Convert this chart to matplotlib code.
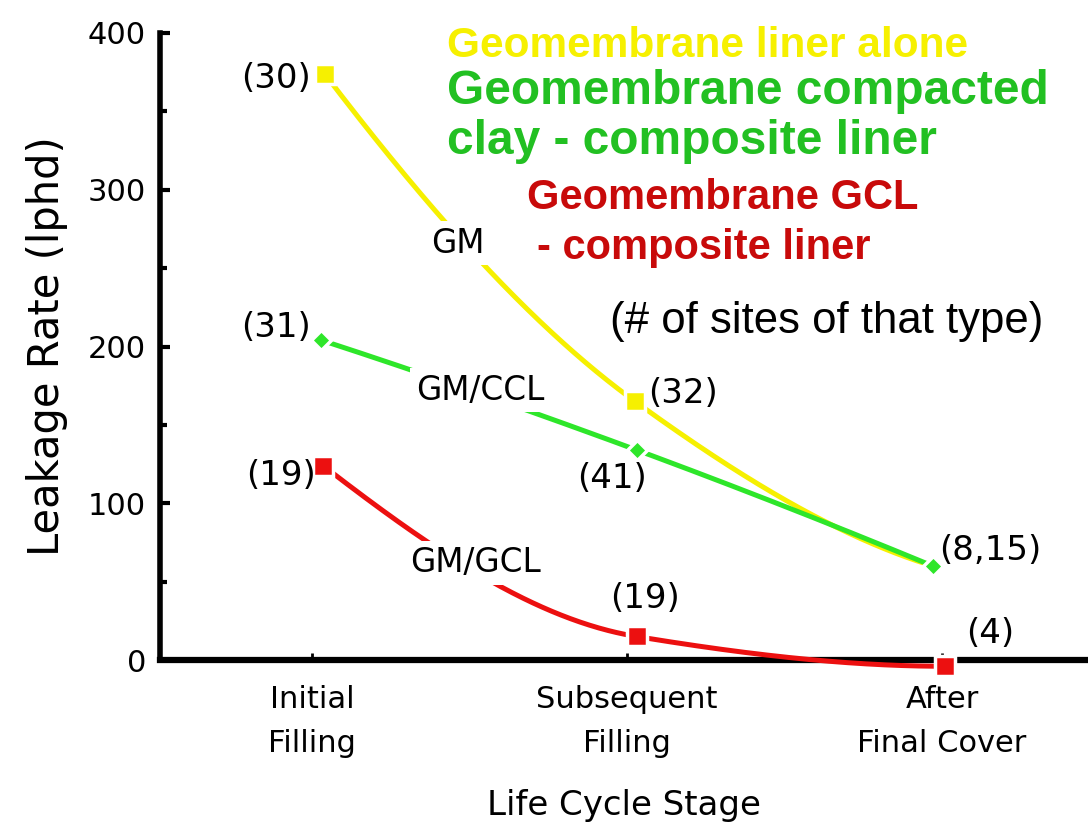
import numpy as np
import matplotlib
matplotlib.use("Agg")
import matplotlib.pyplot as plt
from matplotlib.ticker import MultipleLocator

# ---- data ----
stages = ["Initial\nFilling", "Subsequent\nFilling", "After\nFinal Cover"]
gm_x = [0.04, 1.025, 1.97]
gm_y = [374, 165, 60]
ccl_x = [0.03, 1.03, 1.97]
ccl_y = [204, 134, 60]
gcl_x = [0.035, 1.03, 2.01]
gcl_y = [124, 15, -4]
gm_sites = ["(30)", "(32)"]
ccl_sites = ["(31)", "(41)", "(8,15)"]
gcl_sites = ["(19)", "(19)", "(4)"]


def pchip(x, y, n=200):
    x = np.asarray(x, float); y = np.asarray(y, float)
    h = np.diff(x); d = np.diff(y) / h
    m = np.zeros_like(y)
    for k in range(1, len(x) - 1):
        if d[k - 1] * d[k] > 0:
            w1 = 2 * h[k] + h[k - 1]; w2 = h[k] + 2 * h[k - 1]
            m[k] = (w1 + w2) / (w1 / d[k - 1] + w2 / d[k])
    def endslope(h0, h1, d0, d1):
        s = ((2 * h0 + h1) * d0 - h0 * d1) / (h0 + h1)
        if np.sign(s) != np.sign(d0):
            s = 0.0
        elif np.sign(d0) != np.sign(d1) and abs(s) > abs(3 * d0):
            s = 3 * d0
        return s
    m[0] = endslope(h[0], h[1], d[0], d[1])
    m[-1] = endslope(h[-1], h[-2], d[-1], d[-2])
    xs, ys = [], []
    for k in range(len(x) - 1):
        t = np.linspace(0, 1, n)
        h00 = 2 * t**3 - 3 * t**2 + 1; h10 = t**3 - 2 * t**2 + t
        h01 = -2 * t**3 + 3 * t**2; h11 = t**3 - t**2
        xs.append(x[k] + t * h[k])
        ys.append(h00 * y[k] + h10 * h[k] * m[k] + h01 * y[k + 1] + h11 * h[k] * m[k + 1])
    return np.concatenate(xs), np.concatenate(ys)


plt.rcParams['font.family'] = ['DejaVu Sans']
fig = plt.figure(figsize=(10.88, 8.27), dpi=100)
ax = fig.add_axes([160/1088, (827-660)/827, (1088-160)/1088, (660-33)/827])
ax.set_xlim(-0.4825, 2.463)
ax.set_ylim(0, 400)

YEL = "#F6F000"; GRN = "#2EE62A"; RED = "#EC1010"

# lines
for xs, ys, col, z in [(gm_x, gm_y, YEL, 2), (ccl_x, ccl_y, GRN, 3), (gcl_x, gcl_y, RED, 3)]:
    cx, cy = pchip(xs, ys)
    ax.plot(cx, cy, color=col, lw=3.6, zorder=z, clip_on=False, solid_capstyle='butt')

# markers
ax.plot(gm_x[:2], gm_y[:2], ls='none', marker='s', ms=14, color=YEL, mec='white', mew=2.5, zorder=5, clip_on=False)
ax.plot(ccl_x, ccl_y, ls='none', marker='D', ms=10, color=GRN, mec='white', mew=2.5, zorder=5, clip_on=False)
ax.plot(gcl_x, gcl_y, ls='none', marker='s', ms=15, color=RED, mec='white', mew=2.5, zorder=5, clip_on=False)

# line labels with white background
bb = dict(facecolor='white', edgecolor='none', pad=4)
fs = 22
ax.text(0.463, 266, "GM", fontsize=23.5, ha='center', va='center', bbox=bb, zorder=4)
ax.text(0.533, 172, "GM/CCL", fontsize=23.5, ha='center', va='center', bbox=bb, zorder=4)
ax.text(0.52, 62, "GM/GCL", fontsize=23.5, ha='center', va='center', bbox=bb, zorder=4)

# site count annotations
ann = [
    (gm_sites[0], -0.114, 371), (gm_sites[1], 1.178, 170),
    (ccl_sites[0], -0.114, 212), (ccl_sites[1], 0.952, 116), (ccl_sites[2], 2.152, 70),
    (gcl_sites[0], -0.10, 118), (gcl_sites[1], 1.057, 39.5), (gcl_sites[2], 2.152, 17),
]
for t, x, y in ann:
    ax.text(x, y, t, fontsize=24.5, ha='center', va='center', zorder=6, clip_on=False)

# legend-like texts (figure pixel coordinates)
def ftext(px, py, s, **kw):
    fig.text(px / 1088, 1 - py / 827, s, ha='left', va='center', **kw)

ftext(447, 46, "Geomembrane liner alone", color=YEL, fontsize=30.5, fontweight='bold', family='Liberation Sans')
ftext(447, 91, "Geomembrane compacted", color="#22C022", fontsize=34.5, fontweight='bold', family='Liberation Sans')
ftext(447, 142, "clay - composite liner", color="#22C022", fontsize=34.5, fontweight='bold', family='Liberation Sans')
ftext(527, 198, "Geomembrane GCL", color="#C80A0A", fontsize=30, fontweight='bold', family='Liberation Sans')
ftext(537, 248, "- composite liner", color="#C80A0A", fontsize=30, fontweight='bold', family='Liberation Sans')
ftext(610, 322, "(# of sites of that type)", color='black', fontsize=31.5, family='Liberation Sans')

# axes styling
for s in ['top', 'right']:
    ax.spines[s].set_visible(False)
ax.spines['left'].set_linewidth(4)
ax.spines['bottom'].set_linewidth(4.5)
ax.spines['left'].set_bounds(0, 400)
ax.set_xticks(range(len(stages)))
ax.set_xticklabels(stages, fontsize=fs, linespacing=1.65)
ax.yaxis.set_major_locator(MultipleLocator(100))
ax.yaxis.set_minor_locator(MultipleLocator(50))
ax.tick_params(axis='y', which='major', direction='in', length=7, width=3, labelsize=fs, pad=10)
ax.tick_params(axis='y', which='minor', direction='in', length=5, width=3)
ax.tick_params(axis='x', which='major', direction='in', length=5, width=2, pad=18)
ax.set_xlabel("Life Cycle Stage", fontsize=24.5, labelpad=22)
ax.set_ylabel("Leakage Rate (lphd)", fontsize=30, labelpad=14)

fig.savefig("out.png", dpi=100)
